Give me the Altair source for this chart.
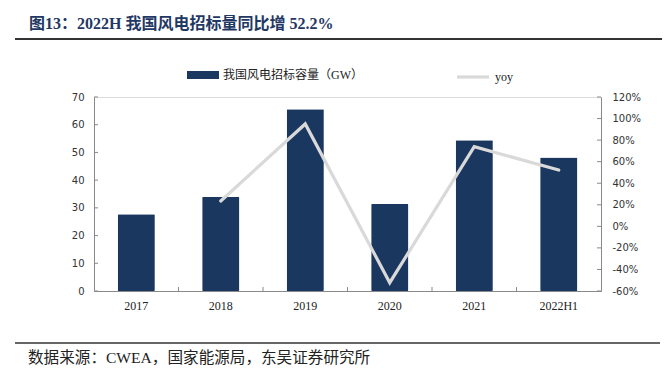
import altair as alt
import pandas as pd

# ---------------- data ----------------
years = ["2017", "2018", "2019", "2020", "2021", "2022H1"]
capacity = [27.7, 34.0, 65.6, 31.4, 54.4, 48.2]          # GW
yoy = [None, 23.5, 95.0, -52.3, 73.9, 52.2]               # %
left_ticks = [0, 10, 20, 30, 40, 50, 60, 70]
right_ticks = [-60, -40, -20, 0, 20, 40, 60, 80, 100, 120]
bar_name = "我国风电招标容量（GW）"
line_name = "yoy"
title_text = "图13：2022H 我国风电招标量同比增 52.2%"
source_text = "数据来源：CWEA，国家能源局，东吴证券研究所"

# ---------------- style ----------------
NAVY = "#1A3760"
LINE_GRAY = "#D9D9D9"
AXIS_GRAY = "#898989"
TEXT = "#222222"
SERIF = "'Liberation Serif', 'Times New Roman', 'Noto Sans CJK SC', serif"
SANS = "'DejaVu Sans', sans-serif"

W, H = 507, 194

df = pd.DataFrame({"year": years, "capacity": capacity, "yoy": yoy,
                   "s1": bar_name, "s2": line_name})

x_enc = alt.X("year:N", sort=years,
              scale=alt.Scale(paddingInner=0, paddingOuter=0),
              axis=alt.Axis(title=None, labelAngle=0, ticks=False,
                            domainColor=AXIS_GRAY, domainWidth=1,
                            labelFont=SERIF, labelFontSize=12,
                            labelColor=TEXT, labelPadding=9, grid=False))

bars = alt.Chart(df).mark_bar(width=alt.RelativeBandSize(0.44),
                              cornerRadius=1).encode(
    x=x_enc,
    y=alt.Y("capacity:Q",
            scale=alt.Scale(domain=[0, 70], nice=False, zero=True),
            axis=alt.Axis(orient="left", title=None, values=left_ticks,
                          ticks=False, grid=False, domainColor=AXIS_GRAY,
                          labelFont=SANS, labelFontSize=10, labelColor="#333333",
                          labelPadding=10)),
    color=alt.Color("s1:N",
                    scale=alt.Scale(domain=[bar_name], range=[NAVY]),
                    legend=alt.Legend(title=None, orient="none",
                                      legendX=93, legendY=-38, padding=0,
                                      symbolType="M-1,-0.25L1,-0.25L1,0.25L-1,0.25Z",
                                      symbolSize=1024, symbolStrokeWidth=0,
                                      labelFont=SERIF, labelFontSize=12,
                                      labelColor=TEXT, labelOffset=4)),
)

line = alt.Chart(df).transform_filter("isValid(datum.yoy)").mark_line(
    strokeWidth=3.2, strokeCap="round").encode(
    x=alt.X("year:N", sort=years),
    y=alt.Y("yoy:Q",
            scale=alt.Scale(domain=[-60, 120], nice=False, zero=False),
            axis=alt.Axis(orient="right", title=None, values=right_ticks,
                          ticks=False, grid=False, domainColor=AXIS_GRAY,
                          labelFont=SANS, labelFontSize=10, labelColor="#333333",
                          labelPadding=11, labelExpr="datum.value + '%'")),
    stroke=alt.Stroke("s2:N",
                      scale=alt.Scale(domain=[line_name], range=[LINE_GRAY]),
                      legend=alt.Legend(title=None, orient="none",
                                        legendX=361, legendY=-38, padding=0,
                                        symbolType="stroke", symbolSize=1024,
                                        symbolStrokeWidth=3.2,
                                        labelFont=SERIF, labelFontSize=12,
                                        labelColor=TEXT, labelOffset=4)),
)

# inward tick marks (Excel style)
lt = pd.DataFrame({"v": left_ticks})
left_tick_marks = alt.Chart(lt).mark_rule(color=AXIS_GRAY, strokeWidth=1).encode(
    y=alt.Y("v:Q", scale=alt.Scale(domain=[0, 70], nice=False), axis=None),
    x=alt.value(0), x2=alt.value(4))

rt = pd.DataFrame({"v": right_ticks})
right_tick_marks = alt.Chart(rt).mark_rule(color=AXIS_GRAY, strokeWidth=1).encode(
    y=alt.Y("v:Q", scale=alt.Scale(domain=[-60, 120], nice=False, zero=False), axis=None),
    x=alt.value(W - 4), x2=alt.value(W))

xt = pd.DataFrame({"year": years[1:]})
x_tick_marks = alt.Chart(xt).mark_rule(color=AXIS_GRAY, strokeWidth=1).encode(
    x=alt.X("year:N", sort=years, bandPosition=0),
    y=alt.value(H - 4), y2=alt.value(H))

# decorations: title, separators, source
title = alt.Chart(pd.DataFrame({"t": [title_text]})).mark_text(
    align="left", baseline="middle", font=SERIF, fontSize=16,
    fontWeight="bold", color="#1F3864").encode(
    x=alt.value(-65), y=alt.value(-73), text="t:N")

top_rule = alt.Chart(pd.DataFrame({"a": [0]})).mark_rule(
    color="#333333", strokeWidth=2).encode(
    x=alt.value(-79), x2=alt.value(568), y=alt.value(-58))

bottom_rule = alt.Chart(pd.DataFrame({"a": [0]})).mark_rule(
    color="#333333", strokeWidth=1.5).encode(
    x=alt.value(-79), x2=alt.value(566), y=alt.value(246))

source = alt.Chart(pd.DataFrame({"t": [source_text]})).mark_text(
    align="left", baseline="middle", font=SERIF, fontSize=15.6,
    color=TEXT).encode(
    x=alt.value(-66), y=alt.value(260.5), text="t:N")

chart = alt.layer(
    bars, left_tick_marks, line, right_tick_marks, x_tick_marks,
    title, top_rule, bottom_rule, source
).resolve_scale(
    y="independent", color="independent", stroke="independent"
).properties(
    width=W, height=H,
    autosize=alt.AutoSizeParams(type="none"),
    padding={"left": 86, "top": 89, "right": 61, "bottom": 83},
).configure_view(stroke=None).configure(background="white")

chart.save("out.html", embed_options={"renderer": "svg", "actions": False})
